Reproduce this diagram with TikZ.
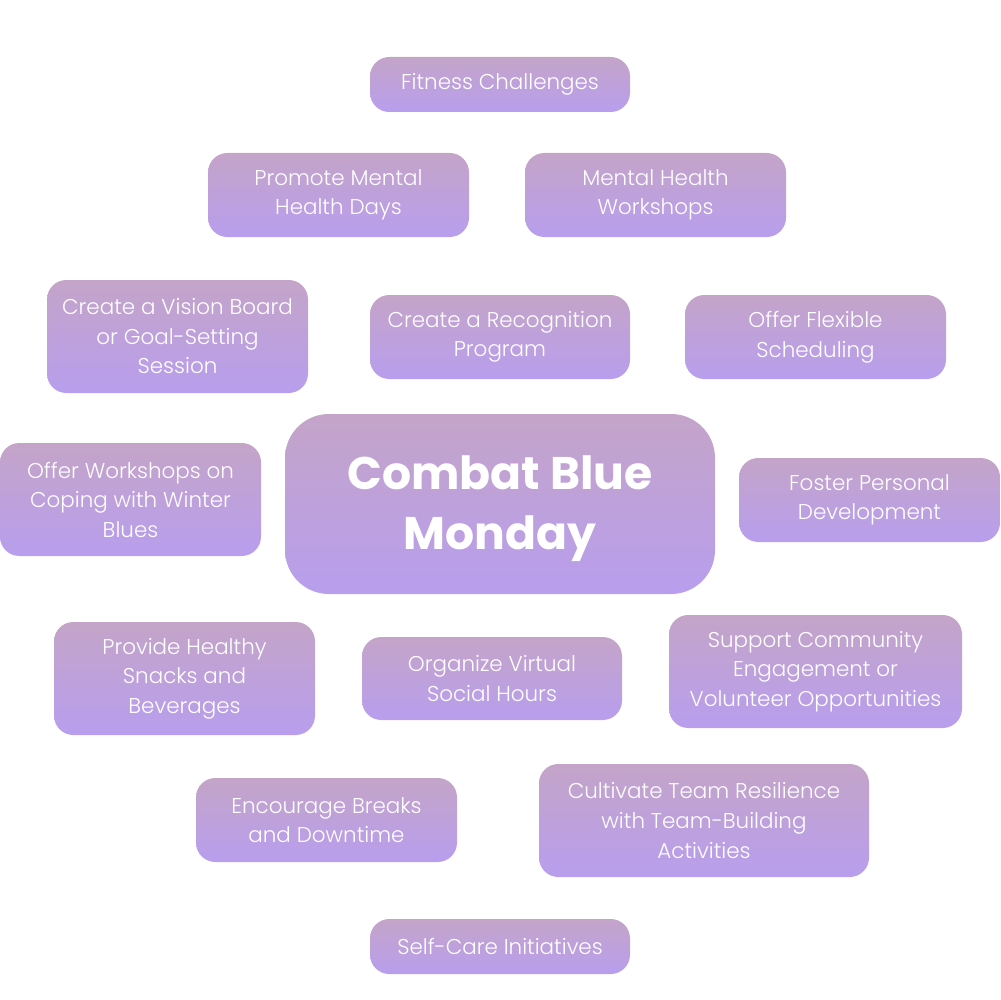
\documentclass[tikz,border=0pt]{standalone}
\usepackage{fontspec}
\setmainfont{Poppins}
\IfFontExistsTF{Poppins Light}{\newfontfamily\lightfont{Poppins Light}}{\newfontfamily\lightfont{Poppins}}
\definecolor{boxtop}{RGB}{196,164,200}
\definecolor{boxbottom}{RGB}{184,158,238}
\tikzset{
  idea/.style={rounded corners=11pt, top color=boxtop, bottom color=boxbottom,
    draw=none, text=white, align=center, font=\lightfont\fontsize{12.2}{16.8}\selectfont,
    inner sep=0pt},
  hub/.style={idea, rounded corners=25pt, font=\bfseries\fontsize{26}{34}\selectfont}
}
\begin{document}
\begin{tikzpicture}[x=0.02cm,y=-0.02cm]
\useasboundingbox (0,0) rectangle (1000,1000);
% centre
\node[hub, minimum width=430*0.02cm, minimum height=180*0.02cm] (blue) at (500,504) {};
\node[text=white, align=center, font=\bfseries\fontsize{26}{34}\selectfont] (bluetext) at (500,509) {Combat Blue\\Monday};
% ideas round it
\node[idea, minimum width=260*0.02cm, minimum height=55*0.02cm] (fitness) at (500,84.5) {Fitness Challenges};
\node[idea, minimum width=261*0.02cm, minimum height=84*0.02cm] (mhdays) at (338.5,195) {Promote Mental\\Health Days};
\node[idea, minimum width=261*0.02cm, minimum height=84*0.02cm] (mhwork) at (655.5,195) {Mental Health\\Workshops};
\node[idea, minimum width=261*0.02cm, minimum height=113*0.02cm] (vision) at (177.5,336.5) {Create a Vision Board\\or Goal-Setting\\Session};
\node[idea, minimum width=260*0.02cm, minimum height=84*0.02cm] (recog) at (500,337) {Create a Recognition\\Program};
\node[idea, minimum width=261*0.02cm, minimum height=84*0.02cm] (flex) at (815.5,337) {Offer Flexible\\Scheduling};
\node[idea, minimum width=261*0.02cm, minimum height=113*0.02cm] (winter) at (130.5,499.5) {Offer Workshops on\\Coping with Winter\\Blues};
\node[idea, minimum width=261*0.02cm, minimum height=84*0.02cm] (develop) at (869.5,500) {Foster Personal\\Development};
\node[idea, minimum width=261*0.02cm, minimum height=113*0.02cm] (snacks) at (184.5,678.5) {Provide Healthy\\Snacks and\\Beverages};
\node[idea, minimum width=260*0.02cm, minimum height=83*0.02cm] (social) at (492,678.5) {Organize Virtual\\Social Hours};
\node[idea, minimum width=293*0.02cm, minimum height=113*0.02cm] (volunteer) at (815.5,671.5) {Support Community\\Engagement or\\Volunteer Opportunities};
\node[idea, minimum width=261*0.02cm, minimum height=84*0.02cm] (breaks) at (326.5,820) {Encourage Breaks\\and Downtime};
\node[idea, minimum width=330*0.02cm, minimum height=113*0.02cm] (team) at (704,820.5) {Cultivate Team Resilience\\with Team-Building\\Activities};
\node[idea, minimum width=260*0.02cm, minimum height=55*0.02cm] (selfcare) at (500,946.5) {Self-Care Initiatives};
\end{tikzpicture}
\end{document}
